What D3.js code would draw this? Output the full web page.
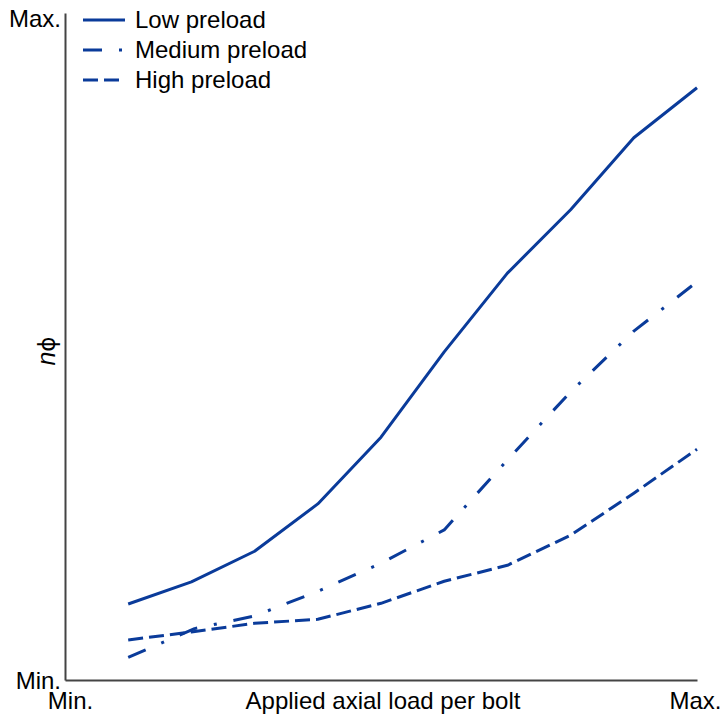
<!DOCTYPE html>
<html>
<head>
<meta charset="utf-8">
<script src="https://cdn.jsdelivr.net/npm/d3@7"></script>
<style>
  html, body { margin: 0; padding: 0; background: #fff; }
  svg text { font-family: "Liberation Sans", Arial, sans-serif; fill: #000; }
</style>
</head>
<body>
<svg id="chart" width="725" height="720"></svg>
<script>
// Load step along the x axis (1..10), value in percent of the Min..Max range
const loadSteps = [1, 2, 3, 4, 5, 6, 7, 8, 9, 10];
const mediumSteps = [1, 2.05, 3, 4, 5, 6, 7, 8, 9, 9.92];
const lowPreload = [11.4, 14.7, 19.3, 26.4, 36.4, 49.2, 61.0, 70.5, 81.3, 88.8];
const mediumPreload = [3.4, 7.7, 9.6, 13.3, 17.5, 22.5, 33.0, 43.2, 52.3, 59.1];
const highPreload = [6.0, 7.2, 8.5, 9.1, 11.5, 14.8, 17.2, 21.7, 28.0, 34.6];
const seriesNames = ["Low preload", "Medium preload", "High preload"];
const xTickLabels = ["Min.", "Max."];
const yTickLabels = ["Min.", "Max."];
const xTitle = "Applied axial load per bolt";

const color = "#0a3b9a";
const dashes = [null, "19,17,3,17", "15,6"];

const svg = d3.select("#chart");
const x = d3.scaleLinear().domain([0, 10]).range([65, 697]);
const y = d3.scaleLinear().domain([0, 100]).range([680, 13]);

// axes: plain lines, only the ends are labelled
const xAxis = d3.axisBottom(x).tickValues([0, 10]).tickSize(0)
  .tickFormat((d, i) => xTickLabels[i]);
const yAxis = d3.axisLeft(y).tickValues([0, 100]).tickSize(0)
  .tickFormat((d, i) => yTickLabels[i]);

const gx = svg.append("g").attr("transform", "translate(0,680)").call(xAxis);
gx.select(".domain").attr("stroke", "#444").attr("stroke-width", 2);
gx.selectAll("text").attr("font-size", 24).attr("dy", 0).attr("y", 29)
  .attr("font-family", "Liberation Sans, Arial, sans-serif")
  .attr("dx", (d, i) => i === 0 ? 5 : -2);

const gy = svg.append("g").attr("transform", "translate(65,0)").call(yAxis);
gy.select(".domain").attr("stroke", "#444").attr("stroke-width", 2);
gy.selectAll("text").attr("font-size", 24).attr("x", -4).attr("dy", "0.34em")
  .attr("font-family", "Liberation Sans, Arial, sans-serif")
  .attr("transform", (d, i) => i === 0 ? "translate(0,0)" : "translate(0,5)");

svg.append("text")
  .attr("x", 383).attr("y", 709)
  .attr("text-anchor", "middle")
  .attr("font-size", 24)
  .text(xTitle);

const yTitle = svg.append("text")
  .attr("transform", "translate(55,351) rotate(-90)")
  .attr("text-anchor", "middle")
  .attr("font-size", 25);
yTitle.append("tspan").attr("font-style", "italic").text("n");
yTitle.append("tspan").attr("font-family", "DejaVu Sans, sans-serif").attr("font-size", 23).text("ϕ");

// series lines
const seriesValues = [lowPreload, mediumPreload, highPreload];
const seriesX = [loadSteps, mediumSteps, loadSteps];
const line = d3.line().x(d => x(d[0])).y(d => y(d[1]));

seriesValues.forEach((vals, k) => {
  const pts = vals.map((v, i) => [seriesX[k][i], v]);
  svg.append("path")
    .attr("d", line(pts))
    .attr("fill", "none")
    .attr("stroke", color)
    .attr("stroke-width", 3)
    .attr("stroke-linejoin", "round")
    .attr("stroke-dasharray", dashes[k]);
});

// legend
const legend = svg.append("g");
seriesNames.forEach((name, k) => {
  const ly = 20 + k * 30;
  legend.append("line")
    .attr("x1", 83).attr("x2", 125).attr("y1", ly).attr("y2", ly)
    .attr("stroke", color).attr("stroke-width", 3)
    .attr("stroke-dasharray", dashes[k]);
  legend.append("text")
    .attr("x", 135).attr("y", ly + 8)
    .attr("font-size", 24)
    .text(name);
});
</script>
</body>
</html>
